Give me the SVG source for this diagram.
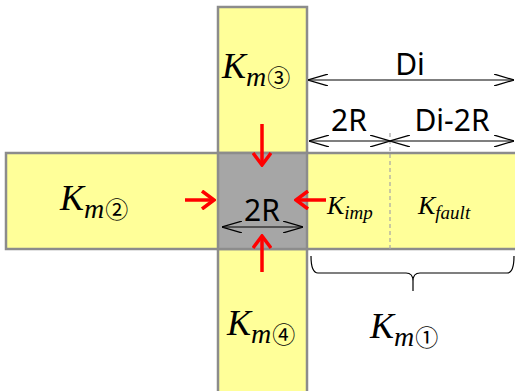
<svg xmlns="http://www.w3.org/2000/svg" width="515" height="391" viewBox="0 0 515 391">
<defs>
<style>
.strip{fill:#ffff99;stroke:#8c8c8c;stroke-width:2.5}
.core{fill:#a6a6a6;stroke:#8c8c8c;stroke-width:2.5}
.dim{stroke:#000;stroke-width:1.2;fill:none}
.red{stroke:#ff0000;stroke-width:3.5;fill:none}
.lbl{font-family:"Noto Sans","Open Sans",sans-serif;font-size:30px;fill:#000;text-anchor:middle}
.k{font-family:"Liberation Serif","DejaVu Serif",serif;font-style:italic;fill:#000}
.c{font-family:"Noto Sans CJK JP","DejaVu Sans",sans-serif;font-style:normal}
</style>
<marker id="oa" viewBox="0 0 20 12" refX="20" refY="6" markerWidth="20" markerHeight="12" markerUnits="userSpaceOnUse" orient="auto-start-reverse">
<path d="M0,0 L20,6 L0,12" fill="none" stroke="#000" stroke-width="1.2"/>
</marker>
<marker id="ra" viewBox="0 0 16 20" refX="14" refY="10" markerWidth="16" markerHeight="20" markerUnits="userSpaceOnUse" orient="auto">
<path d="M2,1 L14,10 L2,19" fill="none" stroke="#ff0000" stroke-width="3.5"/>
</marker>
</defs>
<rect width="515" height="391" fill="#fff"/>
<g id="strip-vertical"><rect class="strip" x="218" y="7" width="89" height="390"/></g>
<g id="strip-horizontal"><rect class="strip" x="6" y="153" width="515" height="96"/></g>
<g id="core"><rect class="core" x="218" y="153" width="89" height="96"/>
<text class="lbl" x="262" y="221">2R</text></g>
<g id="connectors">
<line x1="390" y1="133" x2="390" y2="249" stroke="#a6a6a6" stroke-width="1.2" stroke-dasharray="4,3"/>
<line class="dim" x1="308" y1="80" x2="514" y2="80" marker-start="url(#oa)" marker-end="url(#oa)"/>
<line class="dim" x1="309" y1="141" x2="390" y2="141" marker-start="url(#oa)" marker-end="url(#oa)"/>
<line class="dim" x1="390" y1="141" x2="514" y2="141" marker-start="url(#oa)" marker-end="url(#oa)"/>
<line class="dim" x1="222" y1="227" x2="303" y2="227" marker-start="url(#oa)" marker-end="url(#oa)"/>
<path class="dim" d="M311,256 Q311,273 318,273 L406,273 Q413,273 413,281 L413,291 M413,281 Q413,273 420,273 L507,273 Q514,273 514,256"/>
<line class="red" x1="262" y1="124" x2="262" y2="165" marker-end="url(#ra)"/>
<line class="red" x1="185" y1="200" x2="214" y2="200" marker-end="url(#ra)"/>
<line class="red" x1="326" y1="200" x2="296" y2="200" marker-end="url(#ra)"/>
<line class="red" x1="262" y1="272" x2="262" y2="236" marker-end="url(#ra)"/>
</g>
<g id="labels">
<text class="lbl" x="410" y="75">Di</text>
<text class="lbl" x="349" y="131">2R</text>
<text class="lbl" x="452" y="131">Di-2R</text>
</g>
<g id="km3"><text class="k" x="222" y="78" font-size="36">K<tspan font-size="28" dy="8">m</tspan><tspan class="c" font-size="23" dx="1">③</tspan></text></g>
<g id="km2"><text class="k" x="60" y="210" font-size="36">K<tspan font-size="28" dy="8">m</tspan><tspan class="c" font-size="23" dx="1">②</tspan></text></g>
<g id="km4"><text class="k" x="227" y="335" font-size="36">K<tspan font-size="28" dy="8">m</tspan><tspan class="c" font-size="23" dx="1">④</tspan></text></g>
<g id="km1"><text class="k" x="370" y="338" font-size="36">K<tspan font-size="28" dy="8">m</tspan><tspan class="c" font-size="23" dx="1">①</tspan></text></g>
<g id="kimp"><text class="k" x="327" y="214" font-size="26">K<tspan font-size="19" dy="5">imp</tspan></text></g>
<g id="kfault"><text class="k" x="418" y="214" font-size="26">K<tspan font-size="19" dy="5">fault</tspan></text></g>
</svg>
